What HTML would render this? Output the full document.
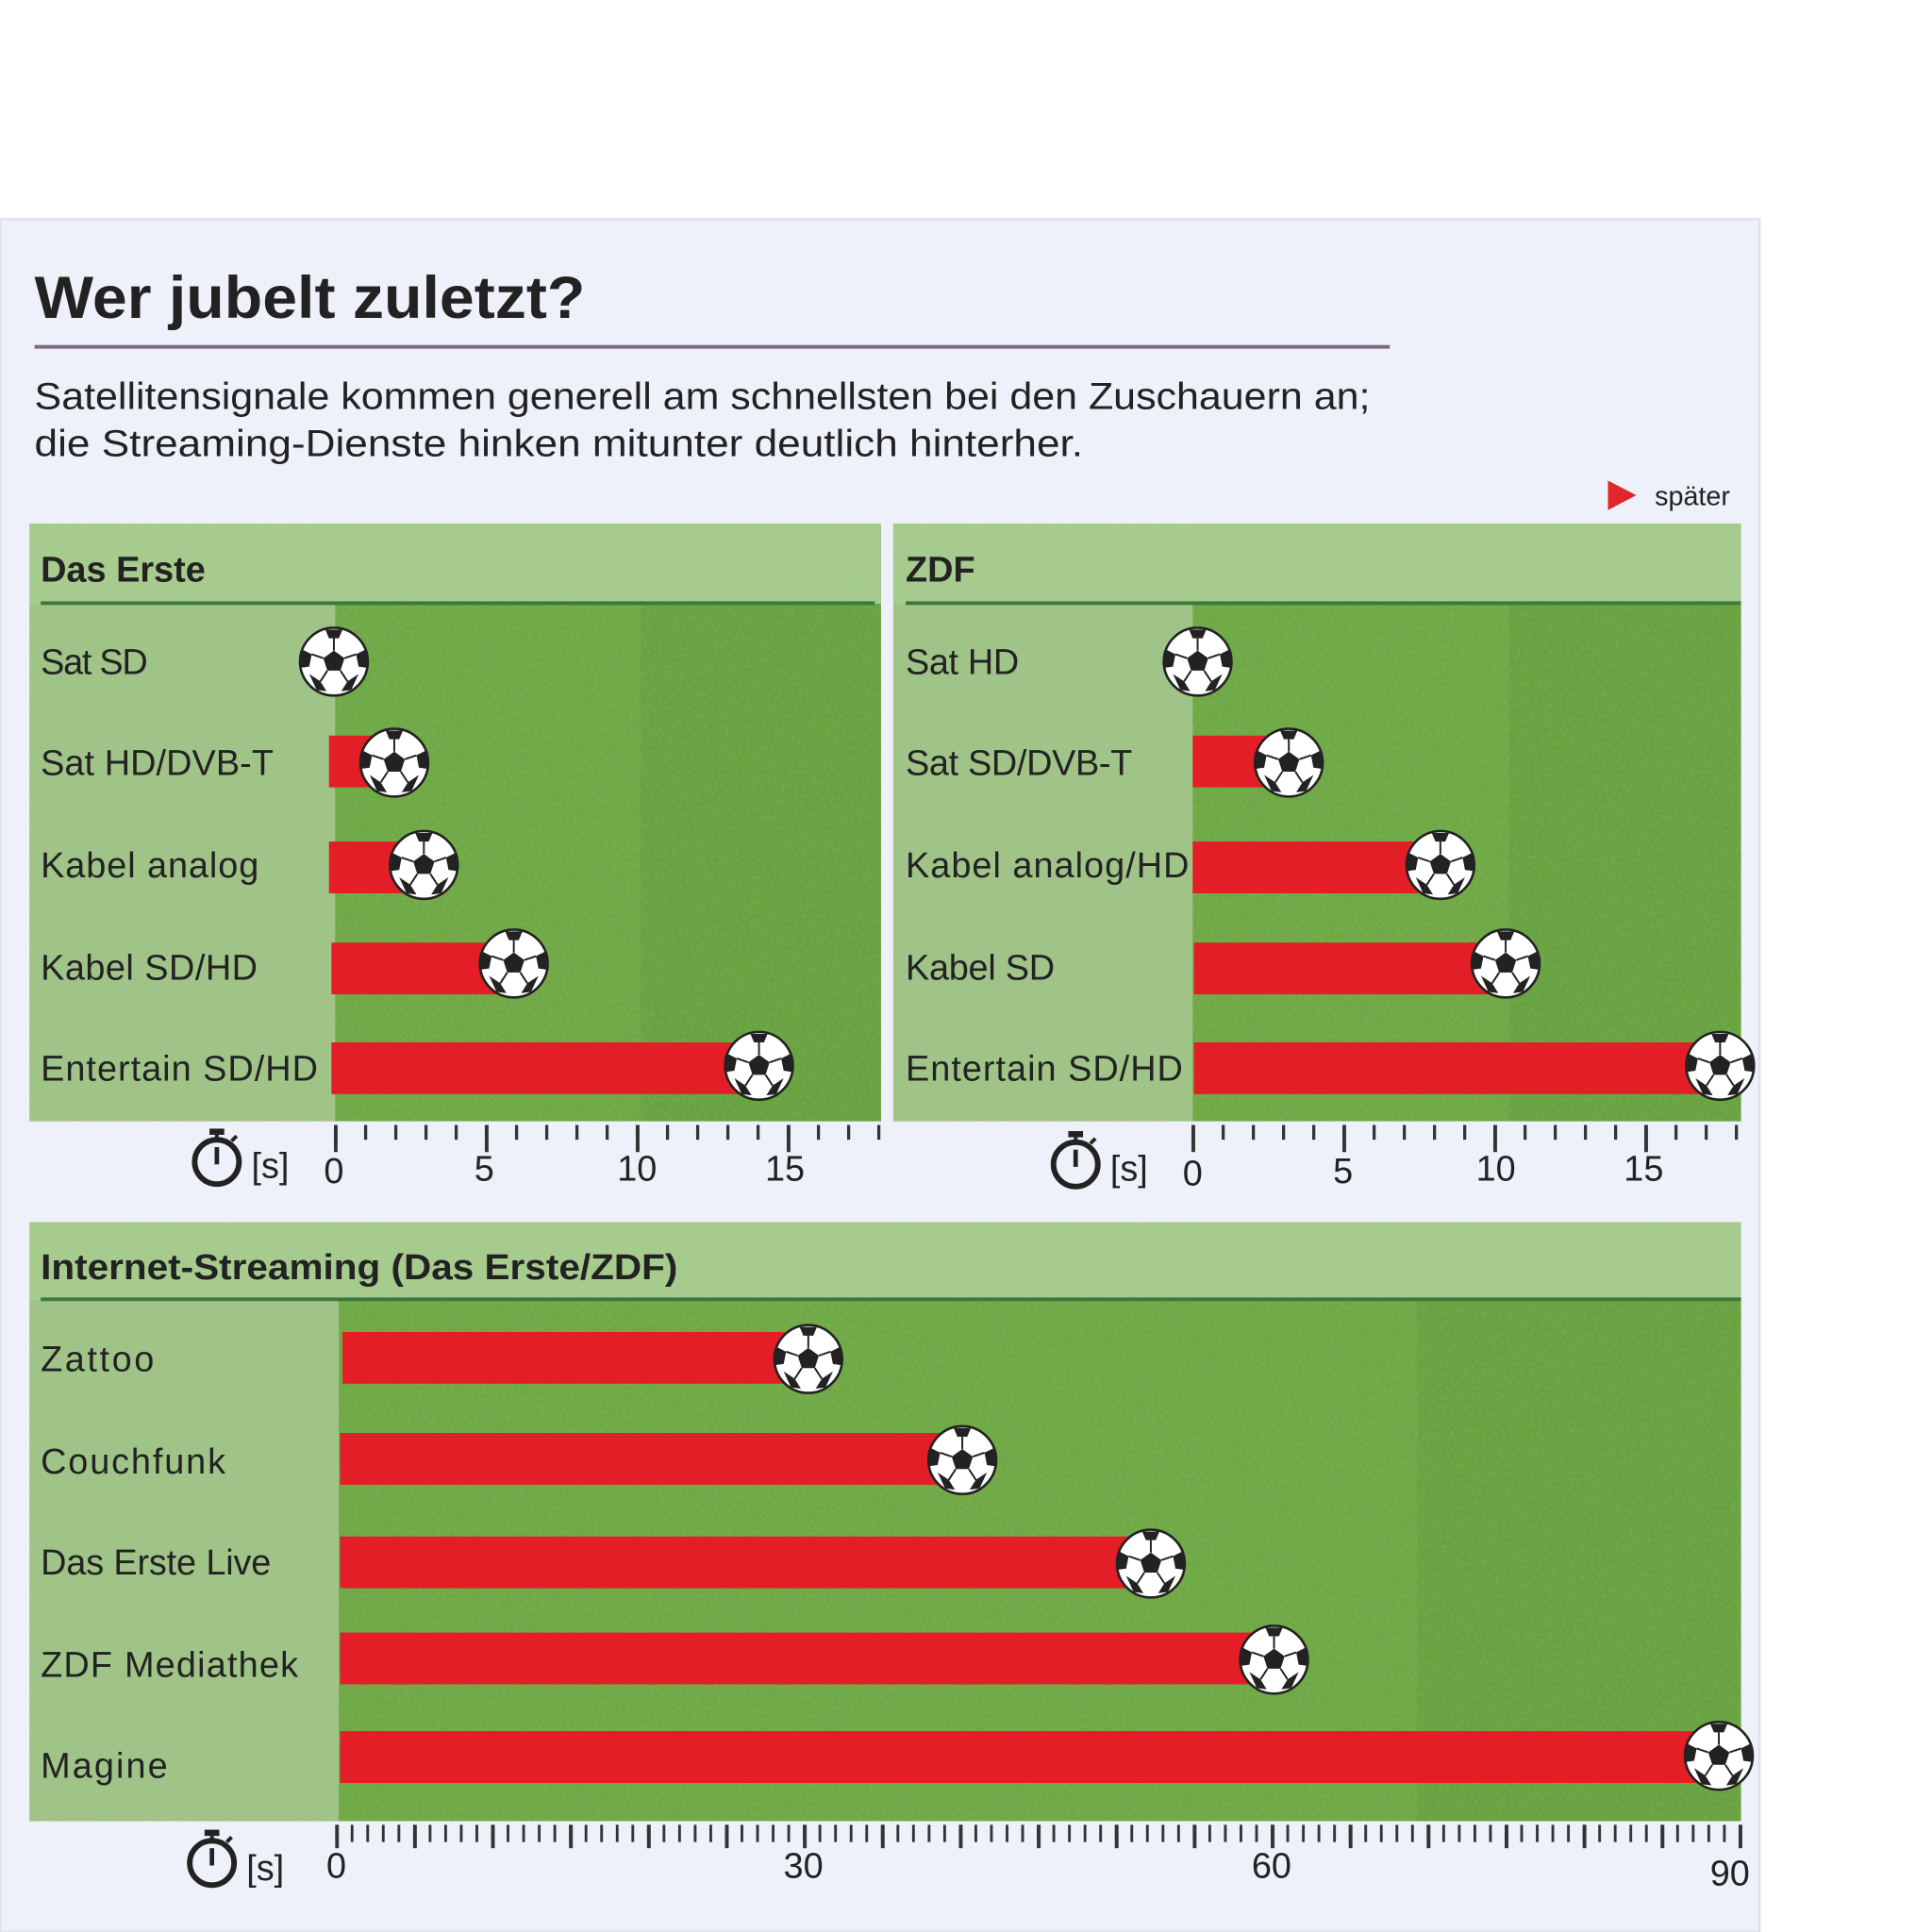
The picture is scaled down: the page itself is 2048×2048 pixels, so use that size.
<!DOCTYPE html>
<html><head><meta charset="utf-8"><style>html,body{margin:0;padding:0;background:#fff}svg{display:block}text{font-family:"Liberation Sans",sans-serif;fill:#222}</style></head>
<body>
<svg width="2048" height="2048" viewBox="0 0 1568 1568" xmlns="http://www.w3.org/2000/svg">
<defs>
<filter id="n" x="0" y="0" width="100%" height="100%"><feTurbulence type="fractalNoise" baseFrequency="0.35" numOctaves="2" seed="3" result="t"/><feColorMatrix in="t" type="matrix" values="0 0 0 0 0.45 0 0 0 0 0.5 0 0 0 0 0.45 0 0 0 -1.2 0.75"/><feComposite in2="SourceGraphic" operator="in"/></filter>
<g id="ball"><circle r="27.5" fill="#fff" stroke="#222" stroke-width="2"/><polygon points="0,-9 8.6,-2.8 5.3,7.3 -5.3,7.3 -8.6,-2.8" fill="#222"/><path d="M0,-9 L0,-19 M8.6,-2.8 L18,-6 M5.3,7.3 L11,16 M-5.3,7.3 L-11,16 M-8.6,-2.8 L-18,-6" stroke="#222" stroke-width="1.5"/><path d="M-7,-26 L7,-26 L4,-19 L-4,-19Z M18,-6 L26,-10 L27,5 L20,4Z M11,16 L20,10 L14,23 L6,24Z M-11,16 L-6,24 L-14,23 L-20,10Z M-18,-6 L-20,4 L-27,5 L-26,-10Z" fill="#222"/></g>
<pattern id="t1s" patternUnits="userSpaceOnUse" x="271" y="0" width="24.5" height="40"><rect x="0" y="0" width="2.5" height="40" fill="#333"/></pattern>
<pattern id="t1l" patternUnits="userSpaceOnUse" x="271" y="0" width="122.5" height="40"><rect x="0" y="0" width="3" height="40" fill="#333"/></pattern>
<pattern id="t2s" patternUnits="userSpaceOnUse" x="967" y="0" width="24.5" height="40"><rect x="0" y="0" width="2.5" height="40" fill="#333"/></pattern>
<pattern id="t2l" patternUnits="userSpaceOnUse" x="967" y="0" width="122.5" height="40"><rect x="0" y="0" width="3" height="40" fill="#333"/></pattern>
<pattern id="t3s" patternUnits="userSpaceOnUse" x="272" y="0" width="12.656" height="40"><rect x="0" y="0" width="2.2" height="40" fill="#333"/></pattern>
<pattern id="t3l" patternUnits="userSpaceOnUse" x="272" y="0" width="63.28" height="40"><rect x="0" y="0" width="3" height="40" fill="#333"/></pattern>
<g id="watch"><circle r="18" fill="none" stroke="#222" stroke-width="4.5"/><rect x="-6" y="-27" width="12" height="5" fill="#222"/><rect x="-1.5" y="-22" width="3" height="5" fill="#222"/><rect x="-1.8" y="-12" width="3.6" height="14" fill="#222"/><path d="M12,-17 L16,-21" stroke="#222" stroke-width="3"/></g>
</defs>
<rect x="0" y="178" width="1428" height="1390" fill="#eef1f9" stroke="#dde2ee" stroke-width="2"/>
<text x="28" y="258" font-size="48" font-weight="bold" fill="#222" textLength="447" lengthAdjust="spacingAndGlyphs">Wer jubelt zuletzt?</text>
<rect x="28" y="280" width="1100" height="3" fill="#7b6a82"/>
<text x="28" y="332" font-size="30.5" textLength="1084" lengthAdjust="spacingAndGlyphs">Satellitensignale kommen generell am schnellsten bei den Zuschauern an;</text>
<text x="28" y="370" font-size="30.5" textLength="851" lengthAdjust="spacingAndGlyphs">die Streaming-Dienste hinken mitunter deutlich hinterher.</text>
<polygon points="1305,390 1328,402 1305,414" fill="#e0262a"/>
<text x="1343" y="410" font-size="22">später</text>

<!-- Panel 1 -->
<g>
<rect x="24" y="425" width="691" height="485" fill="#6ea943"/>
<rect x="24" y="425" width="248" height="485" fill="#9fc486"/>
<rect x="24" y="425" width="691" height="65" fill="#a6cc8c"/>
<rect x="520" y="490" width="195" height="420" fill="#67a33e"/>
<rect x="24" y="425" width="691" height="485" fill="#fff" filter="url(#n)" opacity="0.3"/>
<rect x="33" y="488" width="677" height="3" fill="#3c7a3c"/>
<text x="33" y="472" font-size="29" font-weight="bold">Das Erste</text>
<g font-size="29" lengthAdjust="spacingAndGlyphs"><text x="33" y="547" textLength="87">Sat SD</text><text x="33" y="629" textLength="189">Sat HD/DVB-T</text><text x="33" y="712" textLength="177">Kabel analog</text><text x="33" y="795" textLength="176">Kabel SD/HD</text><text x="33" y="877" textLength="225">Entertain SD/HD</text></g>
<rect x="267" y="597" width="45" height="42" fill="#e31e26"/>
<rect x="267" y="683" width="70" height="42" fill="#e31e26"/>
<rect x="269" y="765" width="140" height="42" fill="#e31e26"/>
<rect x="269" y="846" width="340" height="42" fill="#e31e26"/>
<use href="#ball" x="271" y="537"/><use href="#ball" x="320" y="619"/><use href="#ball" x="344" y="702"/><use href="#ball" x="417" y="782"/><use href="#ball" x="616" y="865"/>
<rect x="271" y="913" width="448" height="12" fill="url(#t1s)"/>
<rect x="271" y="913" width="448" height="22" fill="url(#t1l)"/>
<use href="#watch" x="176" y="943"/>
<text x="204" y="956" font-size="29">[s]</text>
<g font-size="29" text-anchor="middle"><text x="271" y="960">0</text><text x="393" y="958">5</text><text x="517" y="958">10</text><text x="637" y="958">15</text></g>
</g>

<!-- Panel 2 -->
<g>
<rect x="725" y="425" width="688" height="485" fill="#6ea943"/>
<rect x="725" y="425" width="243" height="485" fill="#9fc486"/>
<rect x="725" y="425" width="688" height="65" fill="#a6cc8c"/>
<rect x="1225" y="490" width="188" height="420" fill="#67a33e"/>
<rect x="725" y="425" width="688" height="485" fill="#fff" filter="url(#n)" opacity="0.3"/>
<rect x="735" y="488" width="678" height="3" fill="#3c7a3c"/>
<text x="735" y="472" font-size="29" font-weight="bold">ZDF</text>
<g font-size="29" lengthAdjust="spacingAndGlyphs"><text x="735" y="547" textLength="92">Sat HD</text><text x="735" y="629" textLength="184">Sat SD/DVB-T</text><text x="735" y="712" textLength="230">Kabel analog/HD</text><text x="735" y="795" textLength="121">Kabel SD</text><text x="735" y="877" textLength="225">Entertain SD/HD</text></g>
<rect x="968" y="597" width="70" height="42" fill="#e31e26"/>
<rect x="968" y="683" width="192" height="42" fill="#e31e26"/>
<rect x="969" y="765" width="245" height="42" fill="#e31e26"/>
<rect x="969" y="846" width="420" height="42" fill="#e31e26"/>
<use href="#ball" x="972" y="537"/><use href="#ball" x="1046" y="619"/><use href="#ball" x="1169" y="702"/><use href="#ball" x="1222" y="782"/><use href="#ball" x="1396" y="865"/>
<rect x="967" y="913" width="448" height="12" fill="url(#t2s)"/>
<rect x="967" y="913" width="448" height="22" fill="url(#t2l)"/>
<use href="#watch" x="873" y="945"/>
<text x="901" y="958" font-size="29">[s]</text>
<g font-size="29" text-anchor="middle"><text x="968" y="962">0</text><text x="1090" y="960">5</text><text x="1214" y="958">10</text><text x="1334" y="958">15</text></g>
</g>

<!-- Panel 3 -->
<g>
<rect x="24" y="992" width="1389" height="486" fill="#6ea943"/>
<rect x="24" y="992" width="251" height="486" fill="#9fc486"/>
<rect x="24" y="992" width="1389" height="63" fill="#a6cc8c"/>
<rect x="1150" y="1056" width="263" height="422" fill="#67a33e"/>
<rect x="24" y="992" width="1389" height="486" fill="#fff" filter="url(#n)" opacity="0.3"/>
<rect x="33" y="1053" width="1380" height="3" fill="#3c7a3c"/>
<text x="33" y="1038" font-size="29" font-weight="bold" textLength="517" lengthAdjust="spacingAndGlyphs">Internet-Streaming (Das Erste/ZDF)</text>
<g font-size="29" lengthAdjust="spacingAndGlyphs"><text x="33" y="1113" textLength="92">Zattoo</text><text x="33" y="1196" textLength="150">Couchfunk</text><text x="33" y="1278" textLength="187">Das Erste Live</text><text x="33" y="1361" textLength="209">ZDF Mediathek</text><text x="33" y="1443" textLength="103">Magine</text></g>
<rect x="278" y="1081" width="370" height="42" fill="#e31e26"/>
<rect x="276" y="1163" width="495" height="42" fill="#e31e26"/>
<rect x="276" y="1247" width="645" height="42" fill="#e31e26"/>
<rect x="276" y="1325" width="745" height="42" fill="#e31e26"/>
<rect x="276" y="1405" width="1110" height="42" fill="#e31e26"/>
<use href="#ball" x="656" y="1103"/><use href="#ball" x="781" y="1185"/><use href="#ball" x="934" y="1269"/><use href="#ball" x="1034" y="1347"/><use href="#ball" x="1395" y="1425"/>
<rect x="272" y="1481" width="1143" height="14" fill="url(#t3s)"/>
<rect x="272" y="1481" width="1143" height="19" fill="url(#t3l)"/>
<use href="#watch" x="172" y="1512"/>
<text x="200" y="1526" font-size="29">[s]</text>
<g font-size="29" text-anchor="middle"><text x="273" y="1524">0</text><text x="652" y="1524">30</text><text x="1032" y="1524">60</text><text x="1404" y="1530">90</text></g>
</g>
</svg>
</body></html>
